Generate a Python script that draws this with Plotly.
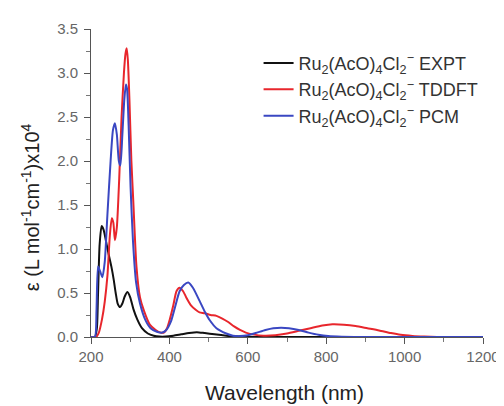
import plotly.graph_objects as go

# EXPT (black)
expt_x = [200, 210, 215, 218, 222, 227, 232, 240, 245, 252, 258, 263, 268, 274, 280, 286, 293, 300, 308, 318, 330, 345, 360, 375, 390, 410, 430, 450, 470, 490, 515, 545, 580, 620, 700, 800, 900]
expt_y = [0, 0, 0.1, 0.5, 1.05, 1.26, 1.22, 1.05, 0.94, 0.8, 0.65, 0.5, 0.38, 0.34, 0.38, 0.46, 0.51, 0.45, 0.32, 0.2, 0.1, 0.04, 0.015, 0.005, 0.005, 0.015, 0.03, 0.045, 0.055, 0.045, 0.03, 0.015, 0.005, 0.0, 0.0, 0.0, 0.0]

# TDDFT (red)
tddft_x = [200, 213, 220, 228, 235, 242, 248, 253, 257, 261, 266, 272, 278, 284, 288, 291, 294, 298, 303, 308, 316, 325, 335, 350, 365, 378, 386, 394, 401, 410, 418, 426, 435, 443, 455, 467, 477, 490, 505, 520, 535, 550, 565, 580, 595, 613, 640, 670, 700, 730, 760, 790, 816, 845, 875, 905, 935, 965, 990, 1020, 1050, 1083]
tddft_y = [0, 0, 0.05, 0.2, 0.4, 0.7, 1.15, 1.35, 1.3, 1.1, 1.25, 1.8, 2.5, 3.0, 3.22, 3.28, 3.15, 2.7, 2.0, 1.53, 0.8, 0.45, 0.3, 0.14, 0.08, 0.05, 0.05, 0.1, 0.2, 0.36, 0.52, 0.56, 0.52, 0.45, 0.36, 0.31, 0.28, 0.27, 0.25, 0.24, 0.21, 0.17, 0.12, 0.08, 0.05, 0.03, 0.015, 0.02, 0.04, 0.07, 0.1, 0.13, 0.145, 0.14, 0.125, 0.1, 0.075, 0.045, 0.025, 0.012, 0.005, 0.0]

# PCM (blue)
pcm_x = [200, 210, 214, 218, 223, 229, 235, 242, 250, 256, 261, 266, 271, 275, 280, 285, 289, 292, 296, 301, 307, 315, 325, 338, 352, 368, 382, 392, 405, 415, 426, 437, 448, 460, 477, 490, 503, 520, 545, 562, 580, 600, 620, 645, 665, 685, 705, 730, 755, 780, 805, 840, 900, 1000, 1100, 1200]
pcm_y = [0, 0, 0.3, 0.8, 0.75, 0.68, 0.85, 1.4, 2.0, 2.35, 2.43, 2.3, 2.0, 1.95, 2.3, 2.7, 2.87, 2.82, 2.4, 1.7, 1.1, 0.62, 0.38, 0.2, 0.1, 0.06, 0.05, 0.08, 0.19, 0.35, 0.52, 0.59, 0.62, 0.56, 0.41, 0.29, 0.19, 0.1, 0.04, 0.015, 0.01, 0.02, 0.045, 0.08, 0.1, 0.105, 0.1, 0.08, 0.05, 0.025, 0.01, 0.003, 0.0, 0.0, 0.0, 0.0]

names = [
    "Ru<sub>2</sub>(AcO)<sub>4</sub>Cl<sub>2</sub><sup>−</sup> EXPT",
    "Ru<sub>2</sub>(AcO)<sub>4</sub>Cl<sub>2</sub><sup>−</sup> TDDFT",
    "Ru<sub>2</sub>(AcO)<sub>4</sub>Cl<sub>2</sub><sup>−</sup> PCM",
]
colors = ["#111111", "#e8262c", "#3a47c2"]

FONT = "Liberation Sans, Arial, sans-serif"

# The page body has an 8px margin; the figure starts at (8, 8) in the window
# and overflows past the window's right/bottom edges (only white there).
OFF = 8
W, H = 504, 406
L, T = 91 - OFF, 24 - OFF
R = W - (484 - OFF)
B = H - (337 - OFF)
plot_w = W - L - R
plot_h = H - T - B

fig = go.Figure()
for i, (xs, ys, nm, c) in enumerate([(expt_x, expt_y, names[0], colors[0]),
                                     (tddft_x, tddft_y, names[1], colors[1]),
                                     (pcm_x, pcm_y, names[2], colors[2])]):
    fig.add_trace(go.Scatter(x=xs, y=ys, mode="lines", name=nm, legendgroup=f"g{i}",
                             line=dict(color=c, width=2, shape="spline", smoothing=0.6)))

def px_x(sx):
    return (sx - OFF - L) / plot_w

def px_y(sy):
    return (H - B - (sy - OFF)) / plot_h

fig.update_layout(
    width=W, height=H,
    margin=dict(l=L, r=R, t=T, b=B),
    paper_bgcolor="white", plot_bgcolor="white",
    font=dict(family=FONT, color="#222"),
    showlegend=True,
    legend=dict(x=px_x(259), y=px_y(40), xanchor="left", yanchor="top",
                bgcolor="rgba(0,0,0,0)", font=dict(size=18, color="#333"),
                tracegroupgap=0, itemwidth=30),
    xaxis=dict(range=[200, 1200], tickvals=[200, 400, 600, 800, 1000, 1200],
               ticks="outside", ticklen=6, tickcolor="#555", ticklabeloverflow="allow",
               minor=dict(dtick=100, tick0=200, ticks="outside", ticklen=4, tickcolor="#777"),
               showline=True, linecolor="#555", linewidth=1, showgrid=False, zeroline=False,
               tickfont=dict(size=15, color="#666")),
    yaxis=dict(range=[0, 3.5], dtick=0.5, tickformat=".1f",
               ticks="outside", ticklen=6, tickcolor="#555", ticklabelstandoff=3,
               minor=dict(dtick=0.25, ticks="outside", ticklen=4, tickcolor="#777"),
               showline=True, linecolor="#555", linewidth=1, showgrid=False, zeroline=False,
               tickfont=dict(size=15, color="#666")),
    annotations=[
        dict(text="Wavelength (nm)", x=px_x(285), y=px_y(393), xref="paper", yref="paper",
             xanchor="center", yanchor="middle", showarrow=False,
             font=dict(size=21, color="#222")),
        dict(text="ε (L mol<sup>-1</sup>cm<sup>-1</sup>)x10<sup>4</sup>", x=px_x(30), y=px_y(205),
             xref="paper", yref="paper", xanchor="center", yanchor="middle",
             showarrow=False, textangle=-90,
             font=dict(size=20, color="#222")),
    ],
)

fig.write_html("out.html")
